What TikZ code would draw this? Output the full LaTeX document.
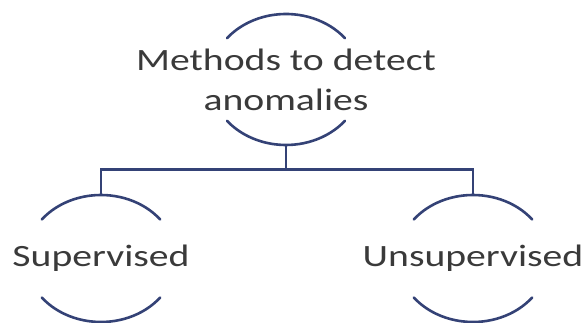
\documentclass[tikz,border=0pt]{standalone}
\usepackage{fontspec}
\setmainfont{Carlito}
\newfontfamily\widecalibri[FakeStretch=1.28]{Carlito}
\definecolor{linkblue}{RGB}{52,66,118}
\definecolor{inkgray}{RGB}{58,58,58}
% two arcs (top and bottom) of an ellipse around a node centre
% #1 node, #2 x radius, #3 y radius, #4 half-opening angle
\newcommand\rimarcs[4]{%
  \draw[rim] ([shift={(#4:#2 and #3)}]#1.center)
    arc[start angle=#4, end angle=180-#4, x radius=#2, y radius=#3];
  \draw[rim] ([shift={(-#4:#2 and #3)}]#1.center)
    arc[start angle=-#4, end angle=-180+#4, x radius=#2, y radius=#3];}
\begin{document}
\begin{tikzpicture}[x=1pt,y=1pt,
  nodetext/.style={font=\widecalibri\fontsize{31}{40}\selectfont,
    text=inkgray, align=center, inner sep=0pt},
  rim/.style={draw=linkblue, line width=2.6pt, line cap=round},
  link/.style={draw=linkblue, line width=2.6pt}]
\useasboundingbox (0,0) rectangle (586,323);

\node[nodetext] (root) at (286,243.5) {Methods to detect\\anomalies};
\node[nodetext] (sup) at (101,64.5) {Supervised};
\node[nodetext] (uns) at (473,64.5) {Unsupervised};

\rimarcs{root}{76pt}{65.5pt}{39}
\rimarcs{sup}{75pt}{63.5pt}{38}
\rimarcs{uns}{75pt}{63.5pt}{38}

% tree connectors
\draw[link] ([yshift=-65.5pt]root.center) -- ++(0,-24.5) coordinate (fork)
  -| ([yshift=63.5pt]sup.center);
\draw[link] (fork) -| ([yshift=63.5pt]uns.center);
\end{tikzpicture}
\end{document}
